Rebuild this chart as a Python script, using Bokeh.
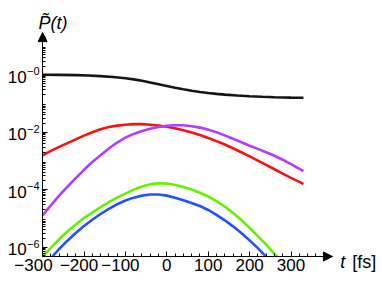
import numpy as np
from bokeh.plotting import figure
from bokeh.models import Range1d, FixedTicker, Arrow, NormalHead, Label, LinearAxis, LogAxis
from bokeh.embed import file_html
from bokeh.resources import INLINE

# ---- data (log10 of P(t)) ----
t_black = [-300, -260, -220, -190, -160, -130, -100, -80, -60, -40, -20, 0, 20, 40, 60, 80, 100, 120, 140, 170, 200, 230, 260, 300, 330]
lg_black = [0.0, -0.003, -0.012, -0.025, -0.045, -0.075, -0.12, -0.16, -0.21, -0.27, -0.33, -0.39, -0.45, -0.505, -0.555, -0.60, -0.635, -0.665, -0.69, -0.72, -0.745, -0.765, -0.78, -0.795, -0.80]

t_red = [-300, -280, -260, -240, -220, -200, -180, -160, -140, -120, -100, -80, -60, -40, -20, 0, 20, 40, 60, 80, 100, 120, 140, 160, 180, 200, 220, 240, 260, 280, 300, 330]
lg_red = [-2.81, -2.65, -2.51, -2.38, -2.25, -2.12, -2.00, -1.90, -1.82, -1.77, -1.74, -1.72, -1.72, -1.74, -1.77, -1.81, -1.86, -1.93, -2.01, -2.10, -2.20, -2.31, -2.43, -2.56, -2.70, -2.84, -2.99, -3.14, -3.29, -3.44, -3.59, -3.80]

t_purple = [-300, -280, -260, -240, -220, -200, -180, -160, -140, -120, -100, -80, -60, -40, -20, 0, 20, 40, 60, 80, 100, 120, 140, 160, 180, 200, 220, 240, 260, 280, 300, 330]
lg_purple = [-4.90, -4.55, -4.21, -3.90, -3.60, -3.31, -3.04, -2.80, -2.57, -2.36, -2.19, -2.06, -1.96, -1.88, -1.82, -1.78, -1.76, -1.76, -1.79, -1.84, -1.91, -2.00, -2.11, -2.23, -2.35, -2.47, -2.58, -2.70, -2.82, -2.96, -3.11, -3.36]

t_green = [-300, -280, -260, -240, -220, -200, -180, -160, -140, -120, -100, -80, -60, -40, -20, 0, 20, 40, 60, 80, 100, 120, 140, 160, 180, 200, 220, 240, 260, 267]
lg_green = [-6.33, -6.03, -5.73, -5.46, -5.22, -4.99, -4.80, -4.61, -4.44, -4.28, -4.14, -4.00, -3.89, -3.81, -3.78, -3.79, -3.84, -3.91, -4.00, -4.11, -4.24, -4.40, -4.59, -4.81, -5.06, -5.33, -5.62, -5.92, -6.24, -6.33]

t_blue = [-276, -260, -240, -220, -200, -180, -160, -140, -120, -100, -80, -60, -40, -20, 0, 20, 40, 60, 80, 100, 120, 140, 160, 180, 200, 220, 239]
lg_blue = [-6.33, -6.07, -5.78, -5.51, -5.27, -5.05, -4.85, -4.67, -4.51, -4.38, -4.28, -4.21, -4.17, -4.17, -4.21, -4.28, -4.37, -4.47, -4.57, -4.71, -4.88, -5.07, -5.28, -5.51, -5.77, -6.04, -6.33]

x_ticks = [-300, -200, -100, 0, 100, 200, 300]
x_labels = ["\u2212300", "\u2212200", "\u2212100", "0", "100", "200", "300"]
y_exps = [-6, -4, -2, 0]
y_base = ["10", "10", "10", "10"]
y_sup = ["\u22126", "\u22124", "\u22122", "\u22120"]

series = [
    (t_black, lg_black, "#151515"),
    (t_red, lg_red, "#ff1010"),
    (t_purple, lg_purple, "#b43cff"),
    (t_green, lg_green, "#66f000"),
    (t_blue, lg_blue, "#2650ff"),
]

XMIN, XMAX = -300, 400            # drawn extent of the t axis
LMIN, LTOP = -6.33, 1.47          # drawn extent of the P axis (log10)
YLO, YTOP = 10 ** LMIN, 10 ** LTOP
FONT = "Liberation Sans"

p = figure(width=382, height=281, x_range=Range1d(-401.7, 521.0),
           y_range=Range1d(10 ** -7.202, 10 ** 2.589), y_axis_type="log",
           output_backend="svg", toolbar_location=None,
           min_border_left=0, min_border_top=0, min_border_right=0, min_border_bottom=0)
p.title.visible = False
p.outline_line_color = None
p.xgrid.grid_line_color = None
p.ygrid.grid_line_color = None
p.background_fill_color = "white"
p.border_fill_color = "white"

for t, lg, c in series:
    p.line(t, [10 ** v for v in lg], line_color=c, line_width=2.6)

# ---- main axes (line + ticks only) ----
xa = p.xaxis[0]
xa.fixed_location = YLO
xa.bounds = (XMIN, XMAX)
xa.ticker = FixedTicker(ticks=x_ticks, minor_ticks=list(range(-300, 381, 20)))
xa.major_label_overrides = {k: "" for k in x_ticks}

ya = p.yaxis[0]
ya.fixed_location = XMIN
ya.bounds = (YLO, YTOP)
minor = [m * 10.0 ** e for e in range(-7, 2) for m in range(2, 10)]
minor = [v for v in minor if YLO <= v <= YTOP]
y_major = [10.0 ** e for e in y_exps]
ya.ticker = FixedTicker(ticks=y_major, minor_ticks=minor)
ya.major_label_overrides = {k: "" for k in y_major}

for ax in (xa, ya):
    ax.axis_line_color = "black"
    ax.axis_line_width = 1
    ax.major_tick_in = 5
    ax.major_tick_out = 0
    ax.minor_tick_in = 3
    ax.minor_tick_out = 0
    ax.major_tick_line_color = "black"
    ax.minor_tick_line_color = "black"
    ax.major_label_text_font_size = "0px"
    ax.major_label_text_alpha = 0


def label_axis(cls, side, loc, ticks, labels, size, standoff):
    ax = cls(fixed_location=loc, ticker=FixedTicker(ticks=ticks, minor_ticks=[]),
             axis_line_color=None, major_tick_line_color=None, minor_tick_line_color=None,
             major_tick_in=0, major_tick_out=0,
             major_label_overrides={k: v for k, v in zip(ticks, labels)},
             major_label_text_font=FONT, major_label_text_font_size=size,
             major_label_text_color="black", major_label_standoff=standoff)
    p.add_layout(ax, side)


# x tick labels: digits centred on the tick, minus sign hanging to the left
x_shift = [-22, -12, -12, 0, 0, 0, 0]
x_pos = [v + s for v, s in zip(x_ticks, x_shift)]
label_axis(LinearAxis, "below", YLO, x_pos, x_labels, "17px", 3)
# y tick labels: "10" plus a raised, smaller exponent
label_axis(LogAxis, "left", XMIN, [10.0 ** (e - 0.07) for e in y_exps], y_base, "17px", 16)
label_axis(LogAxis, "left", XMIN, [10.0 ** (e + 0.12) for e in y_exps], y_sup, "11px", 3)

# arrow heads at axis ends
p.add_layout(Arrow(end=NormalHead(size=9, fill_color="black", line_color="black"),
                   x_start=370, y_start=YLO, x_end=XMAX, y_end=YLO, line_alpha=0))
p.add_layout(Arrow(end=NormalHead(size=9, fill_color="black", line_color="black"),
                   x_start=XMIN, y_start=10 ** 1.2, x_end=XMIN, y_end=YTOP, line_alpha=0))

# axis titles
p.add_layout(Label(x=-310, y=10 ** 1.805, text="P\u0303(t)", text_align="left",
                   text_baseline="alphabetic", text_font=FONT, text_font_style="italic",
                   text_font_size="18px", text_color="black"))
p.add_layout(Label(x=419, y=10 ** -6.523, text="t", text_align="left",
                   text_baseline="alphabetic", text_font=FONT, text_font_style="italic",
                   text_font_size="18px", text_color="black"))
p.add_layout(Label(x=447.8, y=10 ** -6.523, text="[fs]", text_align="left",
                   text_baseline="alphabetic", text_font=FONT, text_font_size="18px",
                   text_color="black"))

open("out.html", "w").write(file_html(p, INLINE))
